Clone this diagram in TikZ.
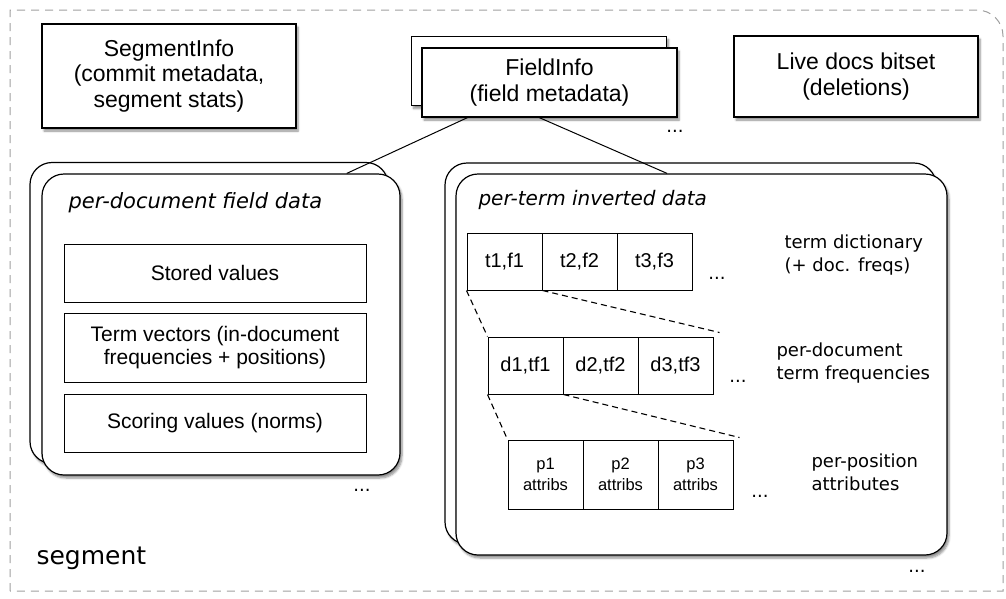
\documentclass[tikz,border=0pt]{standalone}
\usepackage{fontspec}
\setmainfont{Liberation Sans}
\newfontfamily\dejavu{DejaVu Sans}
\usetikzlibrary{calc,shadows.blur}
\newcommand\boxfont{\fontsize{21}{24}\selectfont}
\newcommand\topfont{\fontsize{23}{25.5}\selectfont}

\begin{document}
\begin{tikzpicture}[x=1pt, y=-1pt,
    box/.style={draw, fill=white, line width=1.2pt, inner sep=0pt, align=center,
        blur shadow={shadow blur steps=6, shadow xshift=2pt, shadow yshift=-3pt, shadow opacity=45}},
    group/.style={box, rounded corners=22pt},
    field/.style={draw, line width=1pt, minimum width=302pt, inner sep=0pt, align=center, font=\boxfont},
    cell/.style={draw, line width=1pt, minimum width=75pt, inner sep=0pt, align=center},
    zoomline/.style={line width=1.1pt, dash pattern=on 6pt off 4pt},
    dots/.style={font=\dejavu\fontsize{18}{18}\selectfont},
    caption/.style={anchor=west, align=left, font=\dejavu\fontsize{18}{23}\selectfont},
    title/.style={anchor=west, font=\dejavu\itshape\fontsize{21}{21}\selectfont}]
        \useasboundingbox (0,0) rectangle (1006,598);
        % Segment border
        \draw[gray!75, line width=1pt, dash pattern=on 8pt off 6pt]
            (10,591) -- (10,10) -- (977,10) arc[start angle=-90, end angle=0, radius=26] -- (1003,591) -- cycle;
        \node[anchor=west, font=\dejavu\fontsize{25}{25}\selectfont] (seg) at (33,558) {segment};
        % Segment info
        \node[box, minimum width=254pt, minimum height=104pt, font=\topfont] (si) at (169,76) {SegmentInfo\\(commit metadata,\\segment stats)};
        % Field infos
        \node[box, minimum width=255pt, minimum height=69pt] (fib) at (539,71) {};
        \node[box, minimum width=255pt, minimum height=69pt, font=\topfont] (fi) at (549.5,82.5) {FieldInfo\\(field metadata)};
        \node[dots] (fidots) at (675,131) {...};
        % Live docs
        \node[box, minimum width=244pt, minimum height=81pt, font=\topfont] (ld) at (856,76.5) {Live docs bitset\\(deletions)};
        % Per-document field data
        \node[group, minimum width=358pt, minimum height=301pt] (pdb) at (209,313) {};
        \node[group, minimum width=358pt, minimum height=301pt] (pd) at (221,324.5) {};
        \node[title] (pdtitle) at (65,203) {per-document field data};
        \node[field, minimum height=58pt] (sv) at (215,273) {Stored values};
        \node[field, minimum height=69pt, font=\fontsize{21}{23.5}\selectfont] (tv) at (215,347.5) {Term vectors (in-document\\frequencies + positions)};
        \node[field, minimum height=58pt] (sc) at (215,423) {Scoring values (norms)};
        \node[dots] (pddots) at (362,490) {...};
        % Per-term inverted data
        \node[group, minimum width=491pt, minimum height=381pt] (ptb) at (690.5,353.5) {};
        \node[group, minimum width=491pt, minimum height=381pt] (pt) at (701.5,364.5) {};
        \node[title, font=\dejavu\itshape\fontsize{20}{20}\selectfont] (pttitle) at (475,200) {per-term inverted data};
        \foreach \i in {1,2,3} {
            \node[cell, minimum height=57pt, font=\fontsize{20}{20}\selectfont] (t\i) at ({467+75*(\i-0.5)},261.5) {t\i,f\i};
            \node[cell, minimum height=57pt, font=\fontsize{20}{20}\selectfont] (d\i) at ({488+75*(\i-0.5)},365.5) {d\i,tf\i};
            \node[cell, minimum height=69pt, font=\fontsize{16.5}{21}\selectfont] (p\i) at ({508+75*(\i-0.5)},474.5) {p\i\\attribs};
        }
        \node[dots] (tdots) at (717,278) {...};
        \node[dots] (ddots) at (738,381) {...};
        \node[dots] (pdots) at (760,496) {...};
        \node[dots] (ptdots) at (917,571) {...};
        \node[caption] (tcap) at (781,255) {term dictionary\\(+ doc. freqs)};
        \node[caption] (dcap) at (773,363) {per-document\\term frequencies};
        \node[caption] (pcap) at (808,472) {per-position\\attributes};
        % Zoom lines
        \draw[zoomline] (t1.south west) -- (d1.north west);
        \draw[zoomline] (t1.south east) -- ($(d3.north east)+(6,-4)$);
        \draw[zoomline] (d1.south west) -- (p1.north west);
        \draw[zoomline] (d1.south east) -- ($(p3.north east)+(6,-2)$);
        % Field info links
        \draw[line width=1pt] ($(fi.south west)!0.18!(fi.south east)$) -- ($(pd.north west)!0.85!(pd.north east)$);
        \draw[line width=1pt] ($(fi.south west)!0.46!(fi.south east)$) -- ($(pt.north west)!0.43!(pt.north east)$);
    \end{tikzpicture}
\end{document}
